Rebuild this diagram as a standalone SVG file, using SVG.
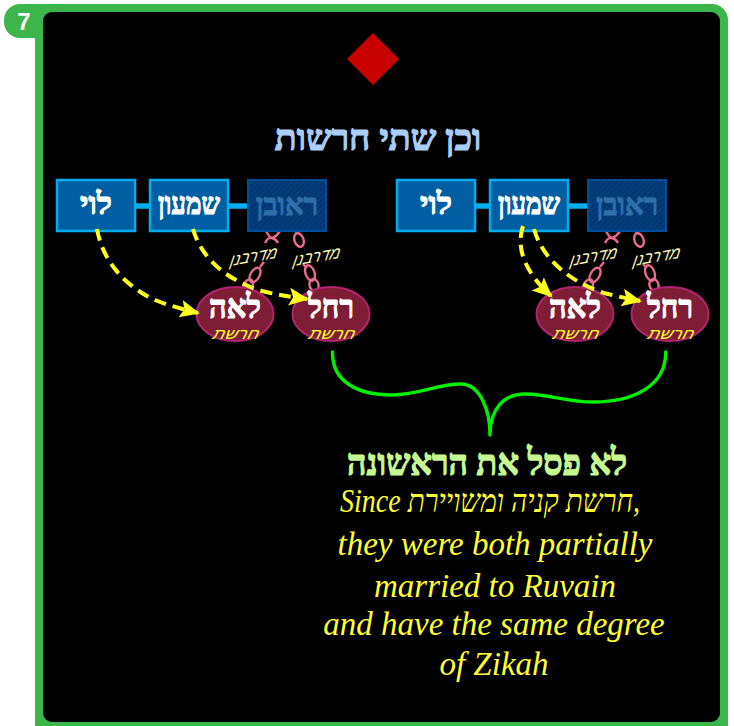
<svg xmlns="http://www.w3.org/2000/svg" xmlns:xlink="http://www.w3.org/1999/xlink" width="734" height="726" viewBox="0 0 734 726">
<style>
.box{fill:#005ea2;stroke:#00aeef;stroke-width:2.5}
.faded{fill:url(#hatch);stroke:#004f9a;stroke-width:2}
.bar{stroke:#00aeef;stroke-width:5.500;fill:none}
.name{font-family:"Liberation Serif",serif;font-weight:bold;fill:#fff;stroke:#fff;stroke-width:1.100;text-anchor:middle;font-size:30px;direction:rtl}
.big{font-size:33px}
.fadedname{fill:#2f6ea8;stroke:#2f6ea8}
.oval{fill:#7f1d36;stroke:#b3246f;stroke-width:2}
.role{font-family:"Liberation Sans",sans-serif;font-style:italic;fill:#ffff33;text-anchor:middle;font-size:15px;direction:rtl}
.dash{fill:none;stroke:#ffff1e;stroke-width:4;stroke-dasharray:12 7;marker-end:url(#arrow)}
.link{fill:none;stroke:#ea6b8c;stroke-width:2.4}
.rabbi{font-family:"Liberation Sans",sans-serif;font-style:italic;fill:#f8f4b4;text-anchor:middle;font-size:16px;direction:rtl}
.script{font-family:"Liberation Serif",serif;font-style:italic;fill:#ffff33;font-size:33px}
</style>
<defs>
<pattern id="hatch" width="4" height="4" patternUnits="userSpaceOnUse" patternTransform="rotate(45)">
<rect width="4" height="4" fill="#063f80"/><rect width="2" height="4" fill="#003570"/>
</pattern>
<marker id="arrow" markerUnits="userSpaceOnUse" markerWidth="22" markerHeight="22" refX="18" refY="10" orient="auto">
<path d="M0 1L20 10L0 19L4 10Z" fill="#ffff1e"/>
</marker>
<g id="chainA">
<path class="link" d="M-7 -9Q-4 -3 -1 -2Q3 -3 7 -9M-8 3Q-5 -3 -1 -2Q3 -1 5 3"/>
<ellipse class="link" cx="-18" cy="35" rx="4.500" ry="8" transform="rotate(30 -18 35)"/>
<ellipse class="link" cx="-25" cy="46" rx="4.500" ry="7" transform="rotate(25 -25 46)"/>
<path class="link" d="M-13 27L-9 22"/>
</g>
<g id="chainB">
<ellipse class="link" cx="1" cy="0" rx="4.500" ry="7" transform="rotate(-20 1 0)"/>
<path class="link" d="M-3 -8L0 -9"/>
<ellipse class="link" cx="12" cy="33" rx="4.500" ry="8" transform="rotate(-20 12 33)"/>
<ellipse class="link" cx="16" cy="45" rx="4.500" ry="6" transform="rotate(-15 16 45)"/>
<path class="link" d="M5 24L9 28"/>
</g>
</defs>
<rect id="frame" x="35" y="4" width="693" height="740" rx="16" fill="#3cb54a"/>
<path id="tab" d="M20 4H50V38H20A16 16 0 0 1 4 22V20A16 16 0 0 1 20 4Z" fill="#3cb54a"/>
<rect id="panel" x="43" y="12" width="677" height="710" rx="9" fill="#000"/>
<text x="24" y="30" font-family="Liberation Sans, sans-serif" font-weight="bold" font-size="24" fill="#fff" text-anchor="middle">7</text>
<polygon id="diamond" points="373,33 399,59 373,85 347,59" fill="#c90000"/>
<text id="title" x="378" y="150" font-family="Liberation Serif, serif" font-weight="bold" font-size="36" fill="#a9cdf7" stroke="#a9cdf7" stroke-width="1.200" text-anchor="middle" direction="rtl">וכן שתי חרשות</text>
<g id="connectors">
<path class="bar" d="M135 206H150M228 206H248M475 206H490M568 206H588"/>
<use xlink:href="#chainA" href="#chainA" x="273" y="240"/>
<use xlink:href="#chainB" href="#chainB" x="298" y="240"/>
<use xlink:href="#chainA" href="#chainA" x="613" y="240"/>
<use xlink:href="#chainB" href="#chainB" x="638" y="240"/>
<path id="brace" d="M332.500 352C332 382 358 395 392 395C420 395 440 383 462 384C480 385 490 410 490 435C490 410 503 394 525 394C550 394 565 402 593 402C635 402 666 385 665.700 352" fill="none" stroke="#00f000" stroke-width="3.400" stroke-linecap="round" stroke-linejoin="round"/>
</g>
<g id="left-levi"><rect class="box" x="57" y="180" width="78" height="51"/><text class="name" x="96" y="214" textLength="32" lengthAdjust="spacingAndGlyphs">לוי</text></g>
<g id="left-shimon"><rect class="box" x="150" y="180" width="78" height="51"/><text class="name" x="189" y="214" textLength="62" lengthAdjust="spacingAndGlyphs">שמעון</text></g>
<g id="left-ruven"><rect class="faded" x="248" y="180" width="78" height="51"/><text class="name fadedname" x="287" y="215" textLength="62" lengthAdjust="spacingAndGlyphs">ראובן</text></g>
<g id="right-levi"><rect class="box" x="397" y="180" width="78" height="51"/><text class="name" x="436" y="214" textLength="32" lengthAdjust="spacingAndGlyphs">לוי</text></g>
<g id="right-shimon"><rect class="box" x="490" y="180" width="78" height="51"/><text class="name" x="529" y="214" textLength="62" lengthAdjust="spacingAndGlyphs">שמעון</text></g>
<g id="right-ruven"><rect class="faded" x="588" y="180" width="78" height="51"/><text class="name fadedname" x="627" y="215" textLength="62" lengthAdjust="spacingAndGlyphs">ראובן</text></g>
<g id="left-leah"><ellipse class="oval" cx="235" cy="314" rx="38.500" ry="27"/><text class="name big" x="235" y="318" textLength="52" lengthAdjust="spacingAndGlyphs">לאה</text><text class="role" transform="translate(235 339) skewX(-15)" textLength="46" lengthAdjust="spacingAndGlyphs">חרשת</text></g>
<g id="left-rachel"><ellipse class="oval" cx="331" cy="314" rx="38.500" ry="27"/><text class="name big" x="331" y="318" textLength="46" lengthAdjust="spacingAndGlyphs">רחל</text><text class="role" transform="translate(331 339) skewX(-15)" textLength="46" lengthAdjust="spacingAndGlyphs">חרשת</text></g>
<g id="right-leah"><ellipse class="oval" cx="575" cy="314" rx="38.500" ry="27"/><text class="name big" x="575" y="318" textLength="52" lengthAdjust="spacingAndGlyphs">לאה</text><text class="role" transform="translate(575 339) skewX(-15)" textLength="46" lengthAdjust="spacingAndGlyphs">חרשת</text></g>
<g id="right-rachel"><ellipse class="oval" cx="670" cy="314" rx="38.500" ry="27"/><text class="name big" x="670" y="318" textLength="46" lengthAdjust="spacingAndGlyphs">רחל</text><text class="role" transform="translate(670 339) skewX(-15)" textLength="46" lengthAdjust="spacingAndGlyphs">חרשת</text></g>
<g id="rabbinic-labels">
<text class="rabbi" transform="translate(253 262) rotate(-10) skewX(-20)" textLength="48" lengthAdjust="spacingAndGlyphs">מדרבנן</text>
<text class="rabbi" transform="translate(316 262) rotate(-10) skewX(-20)" textLength="48" lengthAdjust="spacingAndGlyphs">מדרבנן</text>
<text class="rabbi" transform="translate(593 262) rotate(-10) skewX(-20)" textLength="48" lengthAdjust="spacingAndGlyphs">מדרבנן</text>
<text class="rabbi" transform="translate(656 262) rotate(-10) skewX(-20)" textLength="48" lengthAdjust="spacingAndGlyphs">מדרבנן</text>
</g>
<g id="dashed-arrows">
<path class="dash" d="M97 229C103 262 125 286 155 300C170 306 182 309 198 313"/>
<path class="dash" d="M193 229C203 264 235 283 262 291C278 295 292 297 307 299"/>
<path class="dash" d="M523 226C515 250 527 274 551 296"/>
<path class="dash" d="M534 229C545 268 585 288 608 294C620 297 630 299 640 301"/>
</g>
<text id="verdict" x="487" y="475" font-family="Liberation Serif, serif" font-weight="bold" font-size="37" fill="#c6f98f" stroke="#c6f98f" stroke-width="1.200" text-anchor="middle" direction="rtl" textLength="280" lengthAdjust="spacingAndGlyphs">לא פסל את הראשונה</text>
<g id="explanation">
<text class="script" x="490" y="512" text-anchor="middle" textLength="300" lengthAdjust="spacingAndGlyphs">Since חרשת קניה ומשויירת,</text>
<text class="script" x="495" y="555" text-anchor="middle">they were both partially</text>
<text class="script" x="495" y="597" text-anchor="middle">married to Ruvain</text>
<text class="script" x="494" y="635" text-anchor="middle">and have the same degree</text>
<text class="script" x="494" y="675" text-anchor="middle">of Zikah</text>
</g>
</svg>
